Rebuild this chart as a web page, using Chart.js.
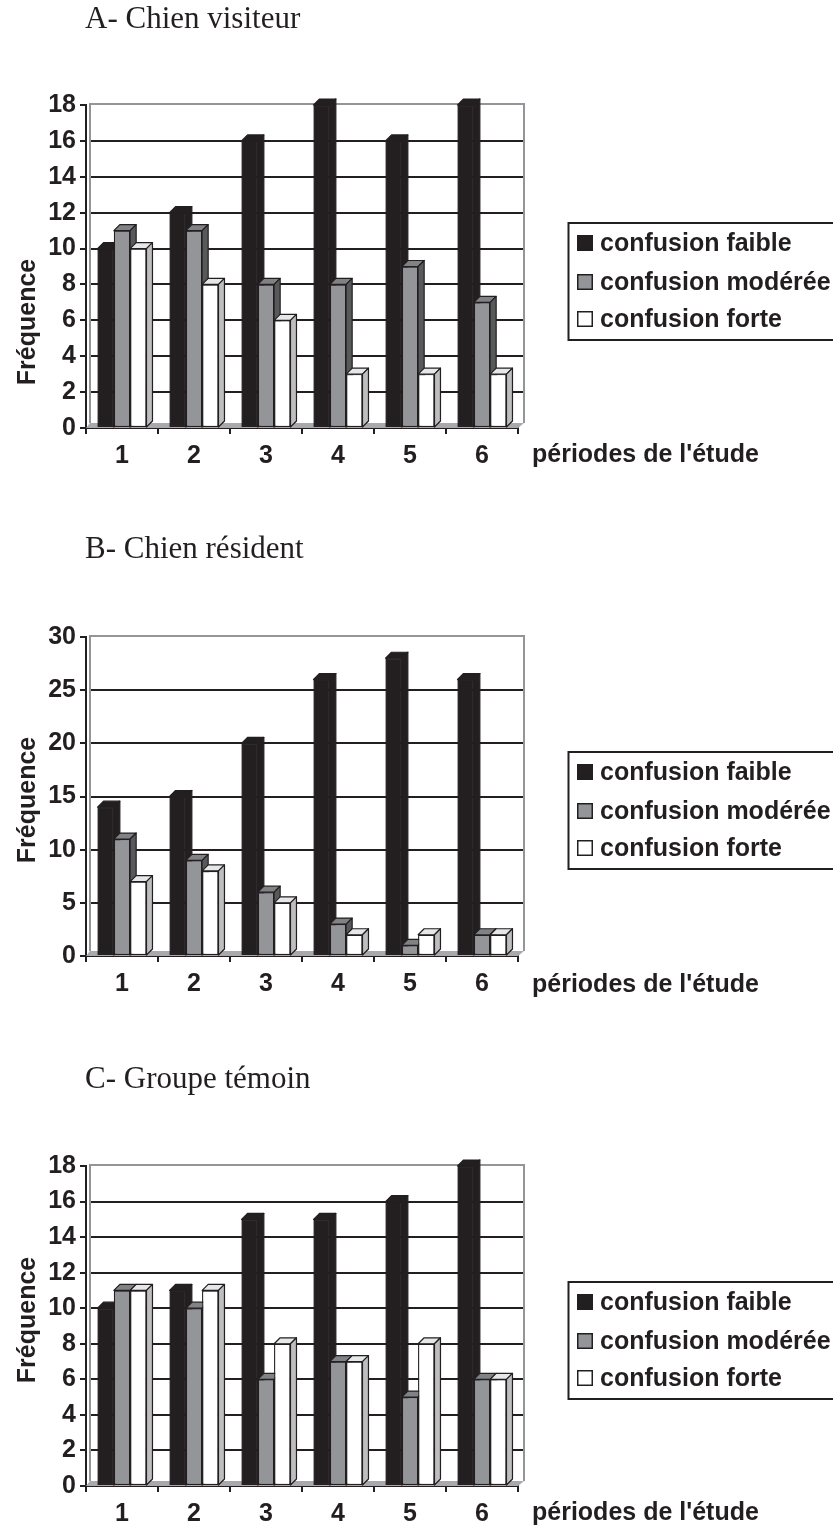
<!DOCTYPE html>
<html>
<head>
<meta charset="utf-8">
<script src="https://cdn.jsdelivr.net/npm/chart.js@4.4.1/dist/chart.umd.min.js"></script>
<style>
  html, body { margin: 0; padding: 0; background: #fff; overflow: hidden; }
  #page { position: relative; width: 833px; height: 1526px; }
  canvas { position: absolute; left: 0; }
</style>
</head>
<body>
<div id="page">
  <canvas id="chartA" width="833" height="508" style="top:0px"></canvas>
  <canvas id="chartB" width="833" height="509" style="top:508px"></canvas>
  <canvas id="chartC" width="833" height="509" style="top:1017px"></canvas>
</div>
<script>
// categories and series
var periodes = ['1', '2', '3', '4', '5', '6']
var seriesNames = ['confusion faible', 'confusion modérée', 'confusion forte']

// A- Chien visiteur
var visiteurFaible  = [10, 12, 16, 18, 16, 18]
var visiteurModeree = [11, 11, 8, 8, 9, 7]
var visiteurForte   = [10, 8, 6, 3, 3, 3]

// B- Chien résident
var residentFaible  = [14, 15, 20, 26, 28, 26]
var residentModeree = [11, 9, 6, 3, 1, 2]
var residentForte   = [7, 8, 5, 2, 2, 2]

// C- Groupe témoin
var temoinFaible  = [10, 11, 15, 15, 16, 18]
var temoinModeree = [11, 10, 6, 7, 5, 6]
var temoinForte   = [11, 11, 8, 7, 8, 6]

// y axis ticks
var yMaxA = 18, yStepA = 2
var yMaxB = 30, yStepB = 5
var yMaxC = 18, yStepC = 2

var front = ['#231f20', '#939598', '#ffffff']
var topFace = ['#231f20', '#808285', '#e6e7e8']
var sideFace = ['#231f20', '#58595b', '#bcbec0']
var INK = '#231f20'
var SANS = '"Liberation Sans", Arial, sans-serif'
var SERIF = '"Liberation Serif", "Times New Roman", serif'
var DX = 6, DY = 6

var deco = {
  id: 'deco',
  beforeDatasetsDraw: function(chart) {
    var ctx = chart.ctx, a = chart.chartArea, y = chart.scales.y
    var yTop = y.getPixelForValue(y.max)
    ctx.save()
    // floor
    ctx.fillStyle = '#a7a9ac'
    ctx.beginPath()
    ctx.moveTo(a.left, a.bottom)
    ctx.lineTo(a.left + DX - 2, a.bottom - DY + 1)
    ctx.lineTo(a.right + DX, a.bottom - DY + 1)
    ctx.lineTo(a.right, a.bottom)
    ctx.closePath()
    ctx.fill()
    // grid lines on the back wall
    ctx.strokeStyle = INK
    ctx.lineWidth = 2
    y.ticks.forEach(function(t) {
      if (t.value <= 0 || t.value >= y.max) return
      var py = Math.round(y.getPixelForValue(t.value))
      ctx.beginPath()
      ctx.moveTo(a.left + DX - 2, py)
      ctx.lineTo(a.right + DX, py)
      ctx.stroke()
    })
    // wall border
    ctx.strokeStyle = '#939598'
    ctx.lineWidth = 2
    ctx.beginPath()
    ctx.moveTo(a.left + DX - 2, a.bottom - DY + 1)
    ctx.lineTo(a.left + DX - 2, yTop - 1)
    ctx.lineTo(a.right + DX, yTop - 1)
    ctx.lineTo(a.right + DX, a.bottom - DY + 1)
    ctx.stroke()
    ctx.restore()
  },
  afterDatasetsDraw: function(chart) {
    var ctx = chart.ctx
    var metas = chart.getSortedVisibleDatasetMetas().slice().sort(function(p, q) { return p.index - q.index })
    ctx.save()
    for (var i = 0; i < periodes.length; i++) {
      metas.forEach(function(meta) {
        var bar = meta.data[i]
        var k = meta.index
        bar.draw(ctx, chart.chartArea)
        var p = bar.getProps(['x', 'y', 'base', 'width'], true)
        var l = p.x - p.width / 2, r = p.x + p.width / 2
        ctx.lineWidth = 1.2
        ctx.strokeStyle = INK
        ctx.lineJoin = 'round'
        // top face
        ctx.fillStyle = topFace[k]
        ctx.beginPath()
        ctx.moveTo(l, p.y); ctx.lineTo(r, p.y); ctx.lineTo(r + DX, p.y - DY); ctx.lineTo(l + DX, p.y - DY)
        ctx.closePath(); ctx.fill(); ctx.stroke()
        // side face
        ctx.fillStyle = sideFace[k]
        ctx.beginPath()
        ctx.moveTo(r, p.y); ctx.lineTo(r + DX, p.y - DY); ctx.lineTo(r + DX, p.base - DY); ctx.lineTo(r, p.base)
        ctx.closePath(); ctx.fill(); ctx.stroke()
      })
    }
    ctx.restore()
  },
  afterDraw: function(chart) {
    var ctx = chart.ctx, a = chart.chartArea, o = chart.options.plugins.deco
    ctx.save()
    ctx.fillStyle = INK
    // chart title
    ctx.font = '31px ' + SERIF
    ctx.textAlign = 'left'
    ctx.textBaseline = 'alphabetic'
    ctx.fillText(o.title, 85, o.titleY)
    // axis titles
    ctx.font = 'bold 25px ' + SANS
    ctx.textBaseline = 'middle'
    ctx.fillText("périodes de l'étude", 532, o.xTitleY)
    ctx.save()
    ctx.translate(28, o.yTitleY)
    ctx.rotate(-Math.PI / 2)
    ctx.textAlign = 'center'
    ctx.fillText('Fréquence', 0, 0)
    ctx.restore()
    // legend
    var lt = o.legendTop
    ctx.strokeStyle = INK
    ctx.lineWidth = 2
    ctx.strokeRect(568.5, lt, 300, 117)
    var rows = [lt + 20, lt + 59, lt + 96]
    chart.data.datasets.forEach(function(ds, k) {
      ctx.fillStyle = ds.backgroundColor
      ctx.fillRect(577, rows[k] - 8, 16, 16)
      ctx.lineWidth = 1.5
      ctx.strokeStyle = INK
      ctx.strokeRect(577.75, rows[k] - 7.25, 14.5, 14.5)
      ctx.fillStyle = INK
      ctx.textAlign = 'left'
      ctx.fillText(ds.label, 600, rows[k] + 1)
    })
    ctx.restore()
  }
}

function makeChart(id, values, yMax, yStep, pos) {
  var canvas = document.getElementById(id)
  var H = canvas.height
  var datasets = values.map(function(v, k) {
    return {
      label: seriesNames[k],
      data: v,
      backgroundColor: front[k],
      borderColor: INK,
      borderWidth: 1.2,
      borderSkipped: false
    }
  })
  return new Chart(canvas.getContext('2d'), {
    type: 'bar',
    data: { labels: periodes, datasets: datasets },
    plugins: [deco],
    options: {
      responsive: false,
      animation: false,
      categoryPercentage: 0.68,
      barPercentage: 1,
      layout: { padding: { top: pos.plotTop, right: 833 - 518, left: 0, bottom: 0 } },
      plugins: {
        legend: { display: false },
        tooltip: { enabled: false },
        deco: pos
      },
      scales: {
        x: {
          offset: true,
          grid: { offset: true, drawOnChartArea: false, color: INK, lineWidth: 2, tickLength: 6 },
          border: { color: INK, width: 2 },
          ticks: { color: INK, font: { family: SANS, size: 25, weight: 'bold' }, padding: 7 },
          afterFit: function(s) { s.height = H - pos.plotBottom }
        },
        y: {
          min: 0,
          max: yMax,
          grid: { drawOnChartArea: false, color: INK, lineWidth: 2, tickLength: 6 },
          border: { color: INK, width: 2 },
          ticks: { stepSize: yStep, color: INK, font: { family: SANS, size: 25, weight: 'bold' }, padding: 4 },
          afterFit: function(s) { s.width = 86 }
        }
      }
    }
  })
}

makeChart('chartA', [visiteurFaible, visiteurModeree, visiteurForte], yMaxA, yStepA,
  { title: 'A- Chien visiteur', titleY: 28, plotTop: 105, plotBottom: 428, xTitleY: 455, yTitleY: 322, legendTop: 223 })
makeChart('chartB', [residentFaible, residentModeree, residentForte], yMaxB, yStepB,
  { title: 'B- Chien résident', titleY: 50, plotTop: 129, plotBottom: 448, xTitleY: 477, yTitleY: 292, legendTop: 244 })
makeChart('chartC', [temoinFaible, temoinModeree, temoinForte], yMaxC, yStepC,
  { title: 'C- Groupe témoin', titleY: 71, plotTop: 149, plotBottom: 469, xTitleY: 496, yTitleY: 303, legendTop: 265 })
</script>
</body>
</html>
